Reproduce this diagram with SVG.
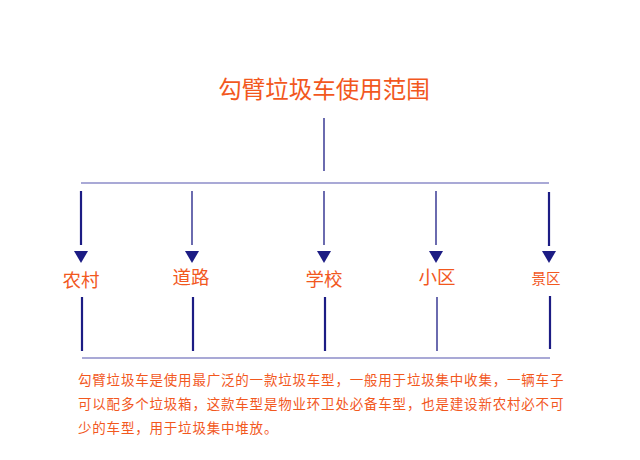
<svg xmlns="http://www.w3.org/2000/svg" width="640" height="460" viewBox="0 0 640 460">
<style>
.t{font-family:"Liberation Sans","Noto Sans CJK SC",sans-serif;fill:#f2581e}
.v{stroke:#1c1c84;stroke-width:1.3}
.vk{stroke:#1c1c84;stroke-width:2.2}
.h{stroke:#8c8cc8;stroke-width:1.3}
.a{fill:#1c1c84}
</style>
<rect width="640" height="460" fill="#fff"/>
<g id="title"><text class="t" x="324" y="98" font-size="23.5" text-anchor="middle">勾臂垃圾车使用范围</text></g>
<g id="connectors">
<line class="v" x1="324" y1="118" x2="324" y2="171"/>
<line class="h" x1="81" y1="183" x2="549" y2="183"/>
<line class="vk" x1="81" y1="191" x2="81" y2="245"/>
<line class="v" x1="192" y1="191" x2="192" y2="245"/>
<line class="v" x1="324" y1="191" x2="324" y2="245"/>
<line class="v" x1="436" y1="191" x2="436" y2="245"/>
<line class="vk" x1="549" y1="192" x2="549" y2="246"/>
<polygon class="a" points="74,251 88,251 81,263"/>
<polygon class="a" points="185,251 199,251 192,263"/>
<polygon class="a" points="317,251 331,251 324,263"/>
<polygon class="a" points="429,251 443,251 436,263"/>
<polygon class="a" points="542,251 556,251 549,263"/>
<line class="vk" x1="82" y1="297" x2="82" y2="351"/>
<line class="vk" x1="193" y1="297" x2="193" y2="351"/>
<line class="vk" x1="325" y1="297" x2="325" y2="351"/>
<line class="v" x1="437" y1="297" x2="437" y2="351"/>
<line class="vk" x1="550" y1="296" x2="550" y2="349"/>
<line class="h" x1="82" y1="358" x2="550" y2="358"/>
</g>
<g id="n1"><text class="t" x="81" y="287" font-size="18.5" text-anchor="middle">农村</text></g>
<g id="n2"><text class="t" x="191" y="284" font-size="18.5" text-anchor="middle">道路</text></g>
<g id="n3"><text class="t" x="324" y="286" font-size="18.5" text-anchor="middle">学校</text></g>
<g id="n4"><text class="t" x="437" y="284" font-size="18.5" text-anchor="middle">小区</text></g>
<g id="n5"><text class="t" x="546" y="284" font-size="14.5" text-anchor="middle">景区</text></g>
<g id="desc" font-size="13.5" letter-spacing="0.8">
<text class="t" x="78" y="385">勾臂垃圾车是使用最广泛的一款垃圾车型，一般用于垃圾集中收集，一辆车子</text>
<text class="t" x="78" y="409">可以配多个垃圾箱，这款车型是物业环卫处必备车型，也是建设新农村必不可</text>
<text class="t" x="78" y="433">少的车型，用于垃圾集中堆放。</text>
</g>
</svg>
